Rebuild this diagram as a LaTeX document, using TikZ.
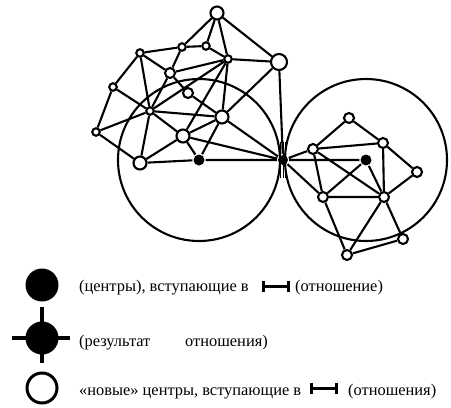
\documentclass[tikz,border=0pt]{standalone}
\usepackage{fontspec}
\setmainfont{Liberation Serif}
\pgfdeclarelayer{bg}
\pgfsetlayers{bg,main}
\begin{document}
\begin{tikzpicture}[x=1pt,y=-1pt,line width=2.1pt,
  edge/.style={draw=black,line width=2.1pt},
  vs/.style={circle,draw,fill=white,inner sep=0pt,minimum size=7.5pt},
  vm/.style={circle,draw,fill=white,inner sep=0pt,minimum size=10pt},
  vl/.style={circle,draw,fill=white,inner sep=0pt,minimum size=13pt},
  vxl/.style={circle,draw,fill=white,inner sep=0pt,minimum size=16pt},
  vb/.style={circle,fill=black,inner sep=0pt,minimum size=11pt},
  rel/.style={circle,fill=black,inner sep=0pt,minimum size=10pt},
  big/.style={circle,draw,inner sep=0pt,minimum size=162pt},
  txt/.style={anchor=base west,inner sep=0pt,font=\fontsize{16.4}{20}\selectfont},
  relbar/.style={line width=3pt}]
\useasboundingbox (0,0) rectangle (451,408);
% big circles
\node[big] (c1) at (199,160) {};
\node[big] (c2) at (366,160) {};
% left cluster
\node[vl] (A) at (217,13) {};
\node[vxl] (B) at (279,62) {};
\node[vs] (C) at (228,59) {};
\node[vs] (D) at (206,46) {};
\node[vs] (E) at (182,47) {};
\node[vs] (F) at (140,53) {};
\node[vm] (G) at (170,73) {};
\node[vs] (H) at (113,87) {};
\node[vm] (I) at (188,93) {};
\node[vs] (J) at (150,111) {};
\node[vl] (K) at (222,117) {};
\node[vs] (L) at (96,132) {};
\node[vl] (M) at (183,136) {};
\node[vl] (N) at (140,163) {};
\node[vb] (O) at (199,160) {};
\node[rel] (P) at (283,160) {};
% right cluster
\node[vm] (Q) at (349,118) {};
\node[vm] (R) at (313,149) {};
\node[vm] (S) at (383,143) {};
\node[vb] (T) at (366,160) {};
\node[vm] (U) at (417,172) {};
\node[vm] (V) at (323,197) {};
\node[vm] (W) at (384,197) {};
\node[vm] (X) at (403,239) {};
\node[vm] (Y) at (347,255) {};
\begin{pgfonlayer}{bg}
\path[edge] (A)--(E) (A)--(D) (A)--(C) (A)--(B) (E)--(D) (F)--(E) (D)--(C) (C)--(B)
      (G)--(C) (E)--(G) (F)--(G) (F)--(H) (F)--(J) (H)--(J) (H)--(L) (L)--(J)
      (L)--(N) (J)--(N) (J)--(G) (J)--(C) (J)--(K) (J)--(M) (G)--(I) (I)--(K)
      (C)--(K) (C)--(M) (K)--(O) (B)--(K) (B)--(P) (N)--(M) (M)--(K) (N)--(O)
      (O)--(P) (M)--(P) (K)--(P) (M)--(O);
\path[edge] (P)--(R) (P)--(T) (P)--(V) (R)--(S) (R)--(Q) (Q)--(S) (R)--(V) (R)--(W)
      (V)--(T) (V)--(W) (T)--(W) (S)--(W) (S)--(U) (U)--(W) (W)--(X) (W)--(Y)
      (V)--(Y) (X)--(Y);
\end{pgfonlayer}
% ticks of the relation point
\draw[line width=1pt] ([xshift=-2.6pt,yshift=18pt]P.center) -- ([xshift=-2.6pt,yshift=-18pt]P.center)
  ([yshift=18pt]P.center) -- ([yshift=-18pt]P.center)
  ([xshift=2.6pt,yshift=18pt]P.center) -- ([xshift=2.6pt,yshift=-18pt]P.center);
% legend
\node[circle,fill=black,inner sep=0pt,minimum size=33pt] (l1) at (42,285) {};
\node[circle,fill=black,inner sep=0pt,minimum size=33pt] (l2) at (42,338) {};
\draw[line width=3.2pt] ([xshift=-30pt]l2.center) -- ([xshift=28pt]l2.center)
  ([yshift=31pt]l2.center) -- ([yshift=-25pt]l2.center);
\node[circle,draw,line width=3pt,inner sep=0pt,minimum size=30pt] (l3) at (42,388) {};
\node[txt] (t1a) at (79,291) {(центры), вступающие в};
\coordinate (r1a) at (263.5,286);
\coordinate (r1b) at (288.5,286);
\draw[relbar] (r1a) -- (r1b) ([yshift=5.5pt]r1a) -- ([yshift=-5.5pt]r1a) ([yshift=5.5pt]r1b) -- ([yshift=-5.5pt]r1b);
\node[txt] (t1b) at (295,291) {(отношение)};
\node[txt] (t2a) at (79,346) {(результат};
\node[txt] (t2b) at (185,346) {отношения)};
\node[txt] (t3a) at (79,395) {«новые» центры, вступающие в};
\coordinate (r3a) at (311.5,388);
\coordinate (r3b) at (336,388);
\draw[relbar] (r3a) -- (r3b) ([yshift=5.5pt]r3a) -- ([yshift=-5.5pt]r3a) ([yshift=5.5pt]r3b) -- ([yshift=-5.5pt]r3b);
\node[txt] (t3b) at (348,395) {(отношения)};
\end{tikzpicture}
\end{document}
